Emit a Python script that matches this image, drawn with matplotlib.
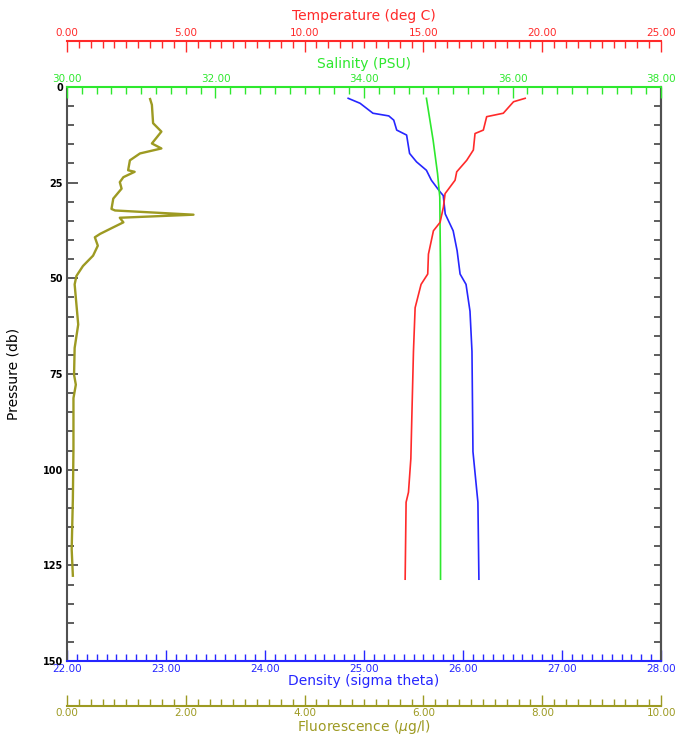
import matplotlib.pyplot as plt
from matplotlib.ticker import MultipleLocator, FormatStrFormatter

# density profile (sigma theta)
dens_p = [3.0, 4.3, 6.9, 7.6, 8.7, 11.3, 12.6, 17.4, 19.6, 21.8, 24.4, 27.5, 28.4,
          33.2, 37.6, 42.8, 48.9, 51.6, 58.6, 69.1, 95.3, 105.9, 108.5, 128.6]
dens = [24.84, 24.96, 25.09, 25.25, 25.30, 25.33, 25.43, 25.46, 25.53, 25.63, 25.68,
        25.77, 25.80, 25.82, 25.90, 25.94, 25.97, 26.03, 26.07, 26.09, 26.10, 26.14,
        26.15, 26.16]

# temperature profile
temp_p = [3.0, 3.9, 6.9, 7.8, 11.3, 12.2, 16.5, 19.2, 22.2, 24.4, 27.9, 31.4, 35.4,
          37.6, 43.7, 48.9, 51.6, 57.7, 69.1, 86.6, 97.1, 105.9, 108.5, 128.6]
temp = [19.28, 18.79, 18.36, 17.66, 17.52, 17.17, 17.10, 16.82, 16.40, 16.33, 15.91,
        15.84, 15.70, 15.42, 15.21, 15.18, 14.90, 14.65, 14.58, 14.51, 14.47, 14.37,
        14.27, 14.23]

# salinity profile
sal_p = [3.0, 13.9, 22.7, 28.8, 48.9, 63.8, 128.6]
sal = [34.84, 34.93, 34.99, 35.02, 35.03, 35.03, 35.03]

# fluorescence profile
fl_p = [3.2, 4.7, 9.5, 11.7, 14.8, 16.1, 17.4, 19.2, 21.8, 22.2, 23.6, 24.9, 26.6,
        29.2, 31.9, 32.3, 33.4, 34.2, 35.4, 36.7, 38.4, 39.3, 41.5, 44.1, 46.8, 49.4,
        51.6, 55.1, 62.1, 68.2, 75.2, 77.8, 81.3, 94.5, 107.6, 120.8, 127.7]
fl = [1.40, 1.43, 1.45, 1.59, 1.43, 1.59, 1.23, 1.06, 1.03, 1.14, 0.95, 0.89, 0.92,
      0.78, 0.75, 0.81, 2.13, 0.89, 0.95, 0.78, 0.56, 0.47, 0.52, 0.44, 0.27, 0.16,
      0.13, 0.15, 0.19, 0.13, 0.12, 0.15, 0.11, 0.11, 0.10, 0.08, 0.10]

RED = "#ff2a2a"
GREEN = "#2ee82e"
BLUE = "#2626ff"
OLIVE = "#9d9a22"
FRAME = "#505050"

fig = plt.figure(figsize=(6.76, 7.42), dpi=100)
ax = fig.add_axes([0.099, 0.109, 0.879, 0.774])

ax.set_ylim(150, 0)
ax.yaxis.set_major_locator(MultipleLocator(25))
ax.yaxis.set_minor_locator(MultipleLocator(5))
ax.tick_params(axis="y", which="major", direction="in", length=8, width=1.3,
               color=FRAME, labelsize=7, pad=3)
ax.tick_params(axis="y", which="minor", direction="in", length=5, width=1.3, color=FRAME)
for lab in ax.get_yticklabels():
    lab.set_fontweight("bold")
ax.set_ylabel("Pressure (db)", fontsize=10, labelpad=16)

# density on the main bottom axis
ax.set_xlim(22, 28)
ax.xaxis.set_major_locator(MultipleLocator(1))
ax.xaxis.set_minor_locator(MultipleLocator(0.1))
ax.xaxis.set_major_formatter(FormatStrFormatter("%.2f"))
ax.tick_params(axis="x", which="major", direction="in", length=8, width=1,
               color=BLUE, labelcolor=BLUE, labelsize=7.5, pad=2)
ax.tick_params(axis="x", which="minor", direction="in", length=5, width=1, color=BLUE)
ax.set_xlabel("Density (sigma theta)", color=BLUE, fontsize=10, labelpad=0)
ax.spines["bottom"].set_color(BLUE)
ax.spines["top"].set_visible(False)
ax.spines["left"].set_color(FRAME)
ax.spines["right"].set_color(FRAME)
for s in ["left", "right", "bottom"]:
    ax.spines[s].set_linewidth(1.5)
ax.plot(dens, dens_p, color=BLUE, lw=1.2)

# right side ticks, no labels
ax_r = ax.secondary_yaxis("right")
ax_r.yaxis.set_major_locator(MultipleLocator(5))
ax_r.tick_params(direction="in", length=5, width=1.3, color=FRAME, labelright=False)
ax_r.spines["right"].set_color(FRAME)
ax_r.spines["right"].set_linewidth(1.5)


def extra_axis(side, offset, lo, hi, major, minor, color, label, lpad):
    a = ax.twiny()
    a.set_xlim(lo, hi)
    a.xaxis.set_ticks_position(side)
    a.xaxis.set_label_position(side)
    for s in a.spines.values():
        s.set_visible(False)
    a.spines[side].set_visible(True)
    a.spines[side].set_color(color)
    a.spines[side].set_linewidth(1.5)
    a.spines[side].set_position(("outward", offset))
    a.xaxis.set_major_locator(MultipleLocator(major))
    a.xaxis.set_minor_locator(MultipleLocator(minor))
    a.xaxis.set_major_formatter(FormatStrFormatter("%.2f"))
    a.tick_params(axis="x", which="major", direction="in", length=8, width=1,
                  color=color, labelcolor=color, labelsize=7.5, pad=2)
    a.tick_params(axis="x", which="minor", direction="in", length=5, width=1, color=color)
    a.set_xlabel(label, color=color, fontsize=10, labelpad=lpad)
    return a


ax_s = extra_axis("top", 0, 30, 38, 2, 0.2, GREEN, "Salinity (PSU)", 4.5)
ax_s.plot(sal, sal_p, color=GREEN, lw=1.2)

ax_t = extra_axis("top", 33, 0, 25, 5, 0.5, RED, "Temperature (deg C)", 6)
ax_t.plot(temp, temp_p, color=RED, lw=1.2)

ax_f = extra_axis("bottom", 32, 0, 10, 2, 0.2, OLIVE, "Fluorescence ($\\mu$g/l)", 0)
ax_f.plot(fl, fl_p, color=OLIVE, lw=1.7)

for a in [ax_s, ax_t, ax_f]:
    a.set_ylim(150, 0)

plt.savefig("out.png", dpi=100)
